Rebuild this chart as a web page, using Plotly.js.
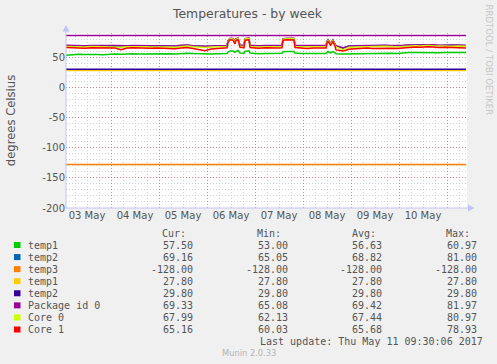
<!DOCTYPE html>
<html>
<head>
<meta charset="utf-8">
<script src="https://cdn.plot.ly/plotly-3.0.1.min.js"></script>
<style>html,body{margin:0;padding:0;background:#f0f0f0;}#chart{width:497px;height:364px;}</style>
</head>
<body>
<div id="chart"></div>
<script>
// ---------- data ----------
const times = [
"2017-05-03 01:30","2017-05-03 05:00","2017-05-03 08:00","2017-05-03 11:00","2017-05-03 14:00","2017-05-03 17:00","2017-05-03 20:00","2017-05-03 23:00",
"2017-05-04 02:00","2017-05-04 05:00","2017-05-04 08:00","2017-05-04 11:00","2017-05-04 14:00","2017-05-04 17:00","2017-05-04 20:00","2017-05-04 23:00",
"2017-05-05 02:00","2017-05-05 05:00","2017-05-05 08:00","2017-05-05 11:00","2017-05-05 14:00","2017-05-05 17:00","2017-05-05 20:00","2017-05-05 23:00",
"2017-05-06 02:00","2017-05-06 05:00","2017-05-06 08:00","2017-05-06 10:00","2017-05-06 10:30","2017-05-06 11:30","2017-05-06 13:00","2017-05-06 14:00",
"2017-05-06 14:30","2017-05-06 15:30","2017-05-06 16:30","2017-05-06 18:30","2017-05-06 19:00","2017-05-06 21:00","2017-05-06 21:30","2017-05-06 23:00",
"2017-05-07 02:00","2017-05-07 05:00","2017-05-07 08:00","2017-05-07 11:00","2017-05-07 13:30","2017-05-07 14:00","2017-05-07 16:00","2017-05-07 19:30","2017-05-07 20:00","2017-05-07 23:00",
"2017-05-08 02:00","2017-05-08 05:00","2017-05-08 08:00","2017-05-08 11:30","2017-05-08 12:00","2017-05-08 12:30","2017-05-08 13:45","2017-05-08 15:00","2017-05-08 16:00","2017-05-08 16:30","2017-05-08 20:00","2017-05-08 23:00",
"2017-05-09 02:00","2017-05-09 05:00","2017-05-09 08:00","2017-05-09 11:00","2017-05-09 14:00","2017-05-09 17:00","2017-05-09 20:00","2017-05-09 23:00",
"2017-05-10 02:00","2017-05-10 05:00","2017-05-10 08:00","2017-05-10 11:00","2017-05-10 14:00","2017-05-10 17:00","2017-05-10 20:00","2017-05-10 23:00",
"2017-05-11 02:00","2017-05-11 05:00","2017-05-11 08:00","2017-05-11 09:30"
];

const temp1Vals = [
53.0,54.3,54.6,54.2,54.8,54.5,54.1,54.7,
55.2,54.6,55.3,55.6,55.1,55.4,55.0,55.3,
55.5,55.8,55.2,56.2,56.6,55.9,55.4,55.1,
55.4,55.7,55.9,56.2,58.5,60.3,60.0,58.0,59.6,60.97,56.8,56.5,59.4,60.5,56.9,56.3,
55.8,56.2,55.9,56.1,56.4,58.8,59.5,59.2,56.7,56.0,
55.8,56.1,55.9,56.2,58.0,59.4,57.2,59.1,57.0,55.6,55.2,55.5,
55.6,56.0,56.3,55.8,56.2,56.7,56.4,56.0,
57.2,57.6,57.8,57.5,58.0,57.7,57.3,57.6,
57.4,57.6,57.3,57.5
];
const temp2Vals = [
68.9,68.4,68.6,68.2,68.8,68.5,68.1,68.7,
68.5,68.0,68.4,68.8,68.3,68.6,68.2,68.4,
67.9,68.3,67.7,69.0,69.6,68.4,67.8,67.6,
68.0,68.3,68.5,68.8,76.8,80.5,80.2,74.6,79.8,80.6,69.2,68.9,80.1,81.0,69.3,68.6,
68.3,68.7,68.4,68.6,68.9,79.9,80.8,80.5,69.1,68.5,
68.3,68.6,68.4,68.7,75.8,78.5,72.4,77.9,71.4,68.4,65.05,68.0,
68.2,68.6,68.9,68.3,68.7,69.2,68.8,68.4,
69.0,69.6,69.9,69.5,70.2,69.8,69.3,69.7,
69.3,69.5,69.1,69.16
];
const packageVals = [
69.5,69.0,69.2,68.8,69.4,69.0,68.7,69.3,
69.1,68.6,69.0,69.4,68.9,69.2,68.8,69.0,
68.5,68.9,68.3,69.6,70.2,69.0,68.4,68.2,
68.6,68.9,69.1,69.4,77.5,81.2,81.0,75.2,80.5,81.3,69.8,69.5,80.8,81.97,69.9,69.2,
68.9,69.3,69.0,69.2,69.5,80.6,81.5,81.2,69.7,69.1,
68.9,69.2,69.0,69.3,76.5,79.2,73.0,78.6,72.0,69.0,65.08,68.6,
68.8,69.2,69.5,68.9,69.3,69.8,69.4,69.0,
69.6,70.2,70.5,70.1,70.8,70.4,69.9,70.3,
69.8,70.0,69.6,69.33
];
const core0Vals = [
67.6,67.1,67.3,66.9,67.5,67.2,66.8,67.4,
67.2,66.5,67.1,67.5,67.0,67.3,66.9,67.1,
66.4,66.9,66.2,67.8,68.5,67.1,66.3,66.0,
66.6,66.9,67.2,67.5,76.0,80.4,80.1,74.0,79.6,80.5,67.9,67.6,80.0,80.97,67.8,67.2,
66.9,67.3,67.0,67.2,67.6,79.8,80.7,80.3,67.8,67.1,
66.9,67.2,67.0,67.4,75.2,78.0,71.5,77.3,70.6,67.0,62.13,66.4,
66.8,67.2,67.5,66.9,67.3,67.9,67.5,67.0,
67.8,68.6,69.0,68.5,69.3,68.8,68.2,68.7,
68.2,68.5,68.0,67.99
];
const core1Vals = [
65.8,65.2,65.5,64.9,65.6,65.3,64.8,65.5,
65.2,62.4,65.0,65.4,64.9,65.3,64.7,65.0,
64.2,64.6,63.8,65.1,66.0,64.2,62.9,60.8,
63.5,64.3,64.8,65.4,74.5,78.6,78.2,72.1,77.8,78.93,66.2,65.7,78.1,78.8,66.0,65.3,
64.9,65.4,65.0,65.2,65.6,77.9,78.7,78.4,65.9,65.0,
64.5,65.0,64.7,65.2,73.4,76.5,69.8,75.6,68.4,62.0,60.03,63.2,
64.0,64.6,65.0,64.2,64.8,65.4,64.9,64.4,
65.6,66.4,66.8,66.3,67.1,66.6,65.9,66.5,
65.9,66.2,65.7,65.16
];

// constant series (start and end of the period)
const constTimes = ["2017-05-03 01:30", "2017-05-11 09:30"];
const temp3Vals = [-128, -128];
const temp1bVals = [27.8, 27.8];
const temp2bVals = [29.8, 29.8];
const packageLimitVals = [86, 86];

// legend table
const legendNames = ["temp1","temp2","temp3","temp1","temp2","Package id 0","Core 0","Core 1"];
const legendColors = ["#00CC00","#0066B3","#FF8000","#FFCC00","#330099","#990099","#CCFF00","#FF0000"];
const curVals = ["57.50","69.16","-128.00","27.80","29.80","69.33","67.99","65.16"];
const minVals = ["53.00","65.05","-128.00","27.80","29.80","65.08","62.13","60.03"];
const avgVals = ["56.63","68.82","-128.00","27.80","29.80","69.42","67.44","65.68"];
const maxVals = ["60.97","81.00","-128.00","27.80","29.80","81.97","80.97","78.93"];
const colHeaders = ["Cur:","Min:","Avg:","Max:"];

const yTickVals = [-200,-150,-100,-50,0,50];
const yTickText = ["-200","-150","-100","-50","0","50"];

const titleText = "Temperatures - by week";
const yTitleText = "degrees Celsius";
const lastUpdate = "Last update: Thu May 11 09:30:06 2017";
const footerText = "Munin 2.0.33";
const sideText = "RRDTOOL / TOBI OETIKER";

// ---------- layout helpers ----------
const W = 497, H = 364;
const L = 66, R = 467, T = 33, B = 208;
const px = x => (x - L) / (R - L);
const py = y => (B - y) / (B - T);

const lw = 1.5;
const seriesVals = [temp1Vals, temp2Vals, null, null, null, packageVals, core0Vals, core1Vals];
const constVals = [null, null, temp3Vals, temp1bVals, temp2bVals, null, null, null];

const traces = [{
  x: constTimes, y: packageLimitVals, type: 'scatter', mode: 'lines',
  line: {color: legendColors[5], width: lw}, showlegend: false, hoverinfo: 'skip'
}];
for (let i = 0; i < legendNames.length; i++) {
  traces.push({
    x: seriesVals[i] ? times : constTimes,
    y: seriesVals[i] ? seriesVals[i] : constVals[i],
    type: 'scatter', mode: 'lines', name: legendNames[i],
    line: {color: legendColors[i], width: lw}, showlegend: false
  });
}

const axisCol = '#c4c4f4';
const majorGrid = 'rgba(225,100,100,0.8)';
const minorGrid = '#cfcfcf';
const dash = '1px,2px';
const mono = 'DejaVu Sans Mono';
const sans = 'DejaVu Sans';
const txtCol = '#555555';

const annotations = [];
const shapes = [];
const rowY0 = 245.3, rowStep = 12.07;
const colRight = [194, 289, 383, 478];
const hdrRight = [187, 282, 376.5, 471];
colHeaders.forEach((h, j) => annotations.push({
  xref: 'paper', yref: 'paper', x: px(hdrRight[j]), y: py(233), xanchor: 'right', yanchor: 'middle',
  text: h, showarrow: false, font: {family: mono, size: 10, color: txtCol}, borderpad: 0
}));
legendNames.forEach((n, i) => {
  const yy = rowY0 + i * rowStep;
  shapes.push({type: 'rect', xref: 'paper', yref: 'paper', x0: px(14), x1: px(20.5), y0: py(yy - 3.3), y1: py(yy + 2.7),
    fillcolor: legendColors[i], line: {width: 0}});
  annotations.push({xref: 'paper', yref: 'paper', x: px(26.5), y: py(yy), xanchor: 'left', yanchor: 'middle',
    text: n, showarrow: false, font: {family: mono, size: 10, color: txtCol}, borderpad: 0});
  [curVals, minVals, avgVals, maxVals].forEach((arr, j) => annotations.push({
    xref: 'paper', yref: 'paper', x: px(colRight[j]), y: py(yy), xanchor: 'right', yanchor: 'middle',
    text: arr[i], showarrow: false, font: {family: mono, size: 10, color: txtCol}, borderpad: 0
  }));
});
annotations.push({xref: 'paper', yref: 'paper', x: px(484), y: py(341.7), xanchor: 'right', yanchor: 'middle',
  text: lastUpdate, showarrow: false, font: {family: mono, size: 10, color: txtCol}, borderpad: 0});
annotations.push({xref: 'paper', yref: 'paper', x: px(249), y: py(353), xanchor: 'center', yanchor: 'middle',
  text: footerText, showarrow: false, font: {family: sans, size: 8.3, color: '#b4b4b4'}, borderpad: 0});
annotations.push({xref: 'paper', yref: 'paper', x: px(489), y: py(4), xanchor: 'center', yanchor: 'top',
  text: sideText, textangle: 90, showarrow: false, font: {family: sans, size: 8.6, color: '#c8c8c8'}, borderpad: 0});

// axis arrows
shapes.push({type: 'line', xref: 'paper', yref: 'paper', x0: px(66), x1: px(66), y0: py(B), y1: py(27), line: {color: axisCol, width: 1}});
shapes.push({type: 'path', xref: 'paper', yref: 'paper',
  path: `M ${px(62.5)} ${py(31.5)} L ${px(69.5)} ${py(31.5)} L ${px(66)} ${py(25)} Z`, fillcolor: axisCol, line: {width: 0}});
shapes.push({type: 'line', xref: 'paper', yref: 'paper', x0: px(L), x1: px(470), y0: py(208), y1: py(208), line: {color: axisCol, width: 1}});
shapes.push({type: 'path', xref: 'paper', yref: 'paper',
  path: `M ${px(468)} ${py(204.5)} L ${px(468)} ${py(211.5)} L ${px(474.5)} ${py(208)} Z`, fillcolor: axisCol, line: {width: 0}});

const layout = {
  width: W, height: H,
  margin: {l: L, r: W - R, t: T, b: H - B, pad: 0},
  paper_bgcolor: '#f0f0f0', plot_bgcolor: '#ffffff',
  showlegend: false,
  title: {text: titleText, x: 247.5 / W, xanchor: 'center', xref: 'container', y: 1 - 14 / H, yref: 'container', yanchor: 'middle',
    font: {family: sans, size: 12.4, color: txtCol}},
  xaxis: {
    type: 'date', range: ['2017-05-03 01:30', '2017-05-11 10:00'],
    tick0: '2017-05-03', dtick: 86400000, tickformat: '%d %b', ticklabelmode: 'period',
    showgrid: true, gridcolor: majorGrid, griddash: dash, gridwidth: 1,
    minor: {dtick: 21600000, tick0: '2017-05-03', showgrid: true, gridcolor: minorGrid, griddash: dash, gridwidth: 1},
    showline: false, zeroline: false, ticks: '',
    tickfont: {family: sans, size: 10, color: txtCol}, automargin: false
  },
  yaxis: {
    range: [-200, 90], tickmode: 'array', tickvals: yTickVals, ticktext: yTickText,
    showgrid: true, gridcolor: majorGrid, griddash: dash, gridwidth: 1,
    minor: {tickmode: 'linear', tick0: 0, dtick: 10, showgrid: true, gridcolor: minorGrid, griddash: dash, gridwidth: 1},
    showline: false, zeroline: false, ticks: '',
    tickfont: {family: sans, size: 10, color: txtCol}, automargin: false,
    title: {text: yTitleText, font: {family: sans, size: 11.6, color: txtCol}, standoff: 24}
  },
  annotations: annotations,
  shapes: shapes
};

Plotly.newPlot('chart', traces, layout, {displayModeBar: false, staticPlot: true});
</script>
</body>
</html>
